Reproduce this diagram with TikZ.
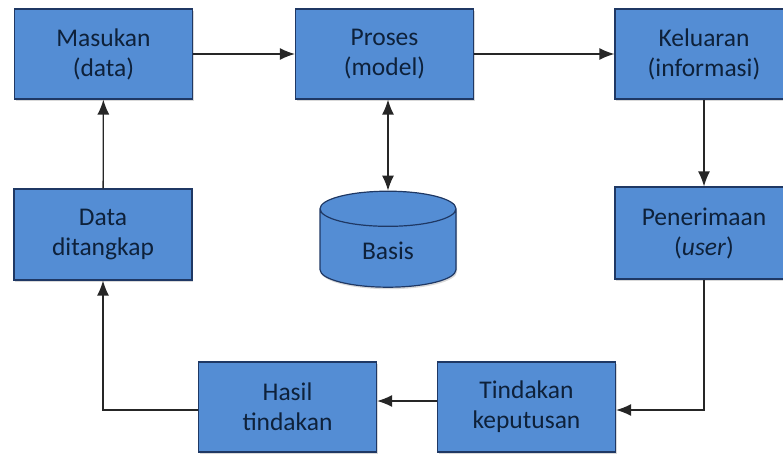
\documentclass[tikz,border=0pt]{standalone}
\usepackage{fontspec}
\setmainfont{Carlito}
\usepackage{tikz}
\usetikzlibrary{arrows.meta,calc,shapes.geometric,shadows}
\definecolor{kotakbiru}{RGB}{84,141,212}
\definecolor{garistepi}{RGB}{31,56,100}
\definecolor{teksbiru}{RGB}{14,33,58}

\begin{document}
\begin{tikzpicture}[x=1pt,y=1pt,
  kotak/.style={rectangle, draw=garistepi, line width=1.2pt, fill=kotakbiru,
    minimum width=178pt, minimum height=90pt, align=center, text=teksbiru,
    font=\fontsize{25.5}{30}\selectfont,
    drop shadow={shadow xshift=1pt, shadow yshift=-2pt, opacity=0.3}},
  silinder/.style={cylinder, shape border rotate=90, aspect=0.6,
    draw=garistepi, line width=1.2pt, fill=kotakbiru,
    minimum width=136pt, minimum height=96pt, text=teksbiru,
    font=\fontsize{25.5}{30}\selectfont,
    drop shadow={shadow xshift=1pt, shadow yshift=-2pt, opacity=0.3}},
  panah/.style={-{Latex[length=15pt,width=12pt]}, line width=1.3pt, black!85},
  panahdua/.style={{Latex[length=15pt,width=12pt]}-{Latex[length=15pt,width=12pt]}, line width=1.3pt, black!85}]
\useasboundingbox (0,0) rectangle (783,453);

% baris atas
\node[kotak] (masukan) at (103.5,399) {Masukan\\(data)};
\node[kotak] (proses) at (384.5,399) {Proses\\(model)};
\node[kotak] (keluaran) at (704,399) {Keluaran\\(informasi)};

% baris tengah
\node[kotak, minimum height=91pt] (datatangkap) at (103,218.5) {Data\\ditangkap};
\node[silinder] (basis) at (388,202) {Basis};
\node[kotak, minimum height=92pt] (penerimaan) at (704,220) {Penerimaan\\(\textit{user})};

% baris bawah
\node[kotak] (hasil) at (287.5,46) {Hasil\\tindakan};
\node[kotak] (tindakan) at (526.5,46) {Tindakan\\keputusan};

% panah
\draw[panah] (masukan) -- (proses);
\draw[panah] (proses) -- (keluaran);
\draw[panahdua] (proses.south -| basis.north) -- (basis.north);
\draw[panah] (keluaran) -- (penerimaan);
\draw[panah] (penerimaan.south) |- ([yshift=-3pt]tindakan.east);
\draw[panah] ([yshift=6pt]tindakan.west) -- ([yshift=6pt]hasil.east);
\draw[panah] ([yshift=-3pt]hasil.west) -| (datatangkap.south);
\draw[panah] (datatangkap) -- (masukan);
\end{tikzpicture}
\end{document}
